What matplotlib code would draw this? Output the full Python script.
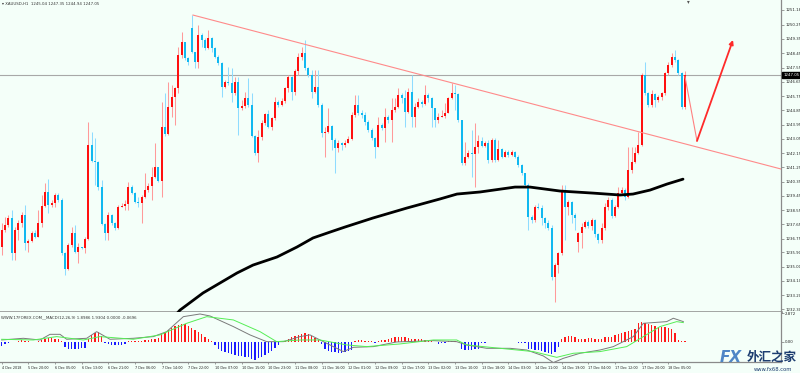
import numpy as np
import matplotlib
matplotlib.use('Agg')
import matplotlib.pyplot as plt
from matplotlib.transforms import blended_transform_factory

# XAUUSD H1 candles (bar index 0..205)
closes = [1237.30, 1237.62, 1238.04, 1235.83, 1237.30, 1237.72, 1238.25, 1236.46, 1236.63, 1237.13,
          1236.88, 1237.72, 1238.81, 1239.72, 1238.88, 1238.98, 1239.51, 1239.19, 1235.87, 1234.82,
          1236.35, 1237.09, 1235.94, 1236.21, 1236.16, 1236.71, 1242.66, 1241.67, 1241.59, 1240.03,
          1237.68, 1237.13, 1238.25, 1237.72, 1237.40, 1238.77, 1238.81, 1238.94, 1240.03, 1239.66,
          1239.09, 1238.98, 1239.40, 1239.82, 1240.08, 1240.66, 1241.25, 1240.41, 1243.82, 1243.36,
          1245.08, 1245.67, 1246.24, 1248.34, 1249.18, 1248.13, 1247.92, 1248.55, 1247.92, 1249.60,
          1249.29, 1248.76, 1249.39, 1248.76, 1248.24, 1247.82, 1246.34, 1246.66, 1246.55, 1245.92,
          1246.66, 1244.98, 1245.12, 1245.61, 1245.19, 1243.23, 1242.14, 1243.19, 1244.03, 1244.62,
          1243.82, 1244.35, 1245.40, 1245.19, 1245.46, 1246.24, 1246.97, 1246.03, 1247.35, 1248.24,
          1248.49, 1247.50, 1247.08, 1246.03, 1246.34, 1245.19, 1243.40, 1243.50, 1243.86, 1242.98,
          1242.45, 1242.77, 1242.66, 1242.81, 1243.02, 1244.56, 1245.19, 1244.66, 1244.56, 1244.13,
          1243.61, 1243.08, 1242.56, 1243.92, 1243.71, 1244.45, 1244.24, 1244.87, 1245.08, 1245.82,
          1245.61, 1244.77, 1246.03, 1244.45, 1245.08, 1245.40, 1245.25, 1245.82, 1245.61, 1244.98,
          1244.24, 1244.45, 1244.49, 1244.70, 1245.61, 1245.92, 1245.88, 1244.24, 1241.51, 1241.93,
          1242.14, 1242.10, 1242.56, 1242.94, 1242.60, 1242.77, 1241.72, 1242.98, 1241.72, 1242.39,
          1241.93, 1242.24, 1242.03, 1242.24, 1241.93, 1241.40, 1240.87, 1240.14, 1238.14, 1237.93,
          1238.77, 1238.69, 1238.04, 1237.72, 1237.40, 1234.36, 1235.09, 1235.83, 1239.82, 1238.77,
          1239.09, 1238.25, 1238.04, 1237.13, 1237.51, 1237.83, 1237.55, 1237.93, 1237.05, 1236.67,
          1237.40, 1238.77, 1239.19, 1238.18, 1238.77, 1239.61, 1239.82, 1239.40, 1241.08, 1241.61,
          1242.14, 1242.66, 1247.08, 1245.92, 1245.19, 1245.88, 1245.50, 1245.67, 1245.92, 1247.18,
          1247.71, 1248.24, 1248.03, 1247.18, 1245.04, 1247.05]
highs = [1237.72, 1238.14, 1238.25, 1238.56, 1237.51, 1237.93, 1238.46, 1238.88, 1236.71, 1237.26,
         1237.30, 1238.56, 1239.51, 1240.24, 1240.50, 1239.19, 1239.66, 1239.61, 1239.30, 1235.93,
         1236.46, 1237.51, 1237.62, 1236.46, 1236.25, 1236.88, 1244.13, 1243.50, 1243.08, 1241.67,
         1240.45, 1237.72, 1238.46, 1238.31, 1237.83, 1238.88, 1238.98, 1239.19, 1240.35, 1240.14,
         1239.72, 1239.40, 1239.51, 1240.87, 1240.24, 1241.29, 1242.77, 1241.29, 1245.40, 1245.92,
         1246.66, 1246.45, 1246.34, 1248.87, 1249.81, 1249.18, 1248.24, 1250.86, 1248.55, 1250.23,
         1249.71, 1249.39, 1249.92, 1249.50, 1248.82, 1248.34, 1247.92, 1246.76, 1247.60, 1247.50,
         1246.97, 1246.97, 1245.50, 1246.03, 1246.87, 1245.92, 1243.29, 1243.61, 1244.24, 1244.66,
         1244.87, 1244.45, 1245.71, 1245.50, 1245.61, 1246.34, 1247.08, 1247.02, 1247.44, 1248.45,
         1248.82, 1249.29, 1247.60, 1247.39, 1247.39, 1247.39, 1245.29, 1243.82, 1244.98, 1243.92,
         1243.08, 1242.98, 1242.87, 1242.98, 1243.23, 1244.77, 1245.82, 1245.82, 1244.87, 1244.77,
         1244.24, 1243.71, 1243.19, 1244.45, 1244.03, 1244.98, 1244.56, 1245.61, 1245.61, 1246.24,
         1245.92, 1246.13, 1246.24, 1247.08, 1245.29, 1245.61, 1245.50, 1246.45, 1245.92, 1245.67,
         1244.98, 1244.66, 1244.87, 1245.29, 1245.71, 1246.55, 1246.45, 1245.92, 1244.24, 1242.87,
         1242.35, 1243.61, 1244.03, 1243.29, 1243.19, 1242.94, 1242.98, 1243.08, 1243.08, 1242.98,
         1242.45, 1242.35, 1242.35, 1242.35, 1242.31, 1242.03, 1241.46, 1240.92, 1240.24, 1238.25,
         1238.88, 1238.98, 1238.88, 1238.14, 1237.93, 1237.62, 1235.20, 1235.93, 1240.14, 1240.14,
         1239.19, 1239.15, 1238.35, 1237.19, 1237.72, 1237.93, 1237.93, 1238.04, 1237.98, 1237.09,
         1237.72, 1238.98, 1239.40, 1239.30, 1238.88, 1240.03, 1240.03, 1239.93, 1242.56, 1242.56,
         1242.56, 1243.50, 1247.18, 1247.92, 1246.03, 1246.13, 1245.92, 1245.82, 1246.03, 1247.29,
         1247.92, 1248.49, 1248.66, 1248.07, 1247.29, 1247.35]
lows = [1235.72, 1237.19, 1237.51, 1235.41, 1235.41, 1236.67, 1237.51, 1236.04, 1235.93, 1236.56,
        1236.77, 1236.84, 1237.51, 1238.77, 1238.35, 1238.77, 1238.77, 1239.09, 1235.72, 1234.46,
        1234.78, 1236.25, 1235.87, 1235.20, 1236.08, 1235.83, 1236.67, 1241.61, 1240.14, 1239.82,
        1237.62, 1236.67, 1236.67, 1237.62, 1237.30, 1237.34, 1238.73, 1238.56, 1238.56, 1239.57,
        1238.98, 1238.77, 1237.72, 1239.30, 1239.72, 1239.19, 1240.56, 1240.35, 1239.40, 1243.23,
        1243.29, 1244.45, 1243.92, 1245.92, 1248.13, 1248.03, 1247.71, 1248.45, 1247.50, 1247.50,
        1248.87, 1248.66, 1248.70, 1248.55, 1248.13, 1247.71, 1245.71, 1246.24, 1246.45, 1245.40,
        1245.82, 1243.29, 1244.87, 1244.98, 1245.08, 1243.19, 1242.03, 1241.61, 1242.98, 1243.92,
        1243.71, 1243.61, 1244.24, 1245.08, 1245.12, 1245.29, 1246.03, 1245.50, 1245.82, 1247.08,
        1248.03, 1247.40, 1246.97, 1245.61, 1245.92, 1245.08, 1243.19, 1241.93, 1243.40, 1242.35,
        1240.87, 1242.24, 1242.35, 1242.56, 1242.77, 1242.98, 1244.45, 1244.56, 1244.35, 1243.92,
        1243.50, 1242.98, 1241.82, 1242.52, 1243.61, 1242.87, 1244.03, 1242.87, 1244.77, 1244.98,
        1245.29, 1243.82, 1244.66, 1243.82, 1243.82, 1244.98, 1245.08, 1245.19, 1245.40, 1243.82,
        1243.82, 1244.03, 1244.41, 1244.35, 1244.66, 1245.54, 1244.87, 1244.13, 1241.40, 1241.40,
        1241.82, 1240.66, 1240.03, 1242.14, 1242.52, 1242.56, 1241.51, 1241.61, 1241.61, 1241.67,
        1241.82, 1241.88, 1241.93, 1241.99, 1241.82, 1241.29, 1240.77, 1240.03, 1237.30, 1237.72,
        1237.83, 1238.60, 1237.62, 1237.40, 1237.30, 1234.15, 1232.78, 1234.57, 1235.72, 1236.67,
        1238.25, 1237.72, 1237.30, 1235.93, 1236.14, 1237.40, 1237.46, 1237.30, 1236.88, 1236.46,
        1236.46, 1237.30, 1238.56, 1238.04, 1238.10, 1238.67, 1239.51, 1239.19, 1239.30, 1240.87,
        1241.51, 1242.10, 1242.60, 1245.82, 1245.08, 1245.08, 1245.08, 1245.40, 1245.50, 1245.82,
        1247.08, 1247.60, 1247.92, 1247.08, 1244.91, 1244.94]
first_open = 1236.25
gap_opens = {57: 1250.02, 173: 1236.56}   # weekend / session gaps
last_price = 1247.05

# moving average (black), trend line, forecast arrow
ma_bars = [52, 53.5, 60.4, 70.6, 75.4, 82.6, 88.6, 93.4, 98.5, 103, 111.4, 121.6, 131.5,
           136.6, 143.5, 154, 158.5, 167.5, 177.4, 185.5, 189.4, 194.5, 199.6, 204.4]
ma_vals = [1231.90, 1232.25, 1233.33, 1234.59, 1235.09, 1235.60, 1236.23, 1236.80, 1237.17,
           1237.49, 1238.06, 1238.69, 1239.26, 1239.57, 1239.70, 1240.01, 1240.01, 1239.76,
           1239.63, 1239.51, 1239.57, 1239.82, 1240.20, 1240.51]
trend_x = [57.4, 233.8]
trend_y = [1250.86, 1241.15]
arrow_x = [205, 208.6, 219.4]
arrow_y = [1246.97, 1242.92, 1249.29]

price_ticks = [1251.18, 1250.25, 1249.35, 1248.45, 1247.55, 1246.65, 1245.75, 1244.85, 1243.95,
               1243.05, 1242.15, 1241.25, 1240.35, 1239.45, 1238.55, 1237.65, 1236.75, 1235.90,
               1235.00, 1234.10, 1233.20, 1232.30]

# MACD sub window
macd_hist = [-0.4, -0.2, -0.1, 0.0, 0.0, 0.05, 0.15, 0.1, 0.05, 0.03,
             0.03, 0.05, 0.2, 0.3, 0.35, 0.35, 0.3, 0.25, 0.05, -0.5,
             -0.7, -0.75, -0.75, -0.7, -0.65, -0.6, 0.3, 0.7, 0.95, 1.0,
             0.6, -0.1, -0.2, -0.3, -0.35, -0.35, -0.3, -0.2, 0.05, 0.08,
             0.1, 0.1, 0.12, 0.15, 0.2, 0.25, 0.3, 0.4, 0.8, 1.0,
             1.2, 1.4, 1.6, 1.7, 1.8, 1.8, 1.6, 1.4, 1.2, 1.0,
             0.8, 0.5, 0.3, 0.1, -0.3, -0.7, -0.9, -1.0, -1.1, -1.2,
             -1.3, -1.4, -1.45, -1.5, -1.55, -1.7, -1.8, -1.65, -1.5, -1.3,
             -1.1, -0.9, -0.6, -0.3, -0.05, 0.05, 0.3, 0.5, 0.6, 0.7,
             0.85, 0.9, 0.8, 0.6, 0.4, 0.2, -0.2, -0.7, -0.9, -1.0,
             -1.05, -1.1, -1.1, -1.0, -0.9, -0.8, 0.1, 0.2, 0.15, 0.1,
             0.05, 0.1, -0.1, 0.05, 0.15, 0.2, 0.25, 0.35, 0.45, 0.5,
             0.5, 0.45, 0.35, 0.3, 0.3, 0.3, 0.25, 0.2, 0.15, 0.1,
             -0.05, -0.2, -0.15, -0.1, 0.05, 0.1, 0.05, -0.05, -0.7, -0.8,
             -0.85, -0.8, -0.75, -0.7, -0.1, -0.1, -0.05, -0.05, -0.05, -0.05,
             -0.02, 0.02, -0.05, -0.05, -0.05, -0.1, -0.1, -0.1, -0.7, -0.75,
             -0.8, -0.85, -0.9, -1.0, -1.1, -1.2, -1.0, -0.5, 0.3, 0.5,
             0.6, 0.6, 0.5, 0.3, 0.25, 0.3, 0.35, 0.35, 0.3, 0.25,
             0.3, 0.5, 0.55, 0.55, 0.7, 0.8, 0.9, 1.0, 1.1, 1.2,
             1.3, 1.9, 2.0, 1.9, 1.8, 1.7, 1.6, 1.55, 1.5, 1.5,
             1.4, 1.3, 0.9, 0.2, 0.05, 0.05]
grey_x = [0, 6.5, 11.5, 14.5, 17.5, 19.5, 25.5, 28.5, 32.5, 39.5, 45.5, 49.5, 54.5, 59.5,
          62.5, 69.5, 74.5, 79.5, 84.5, 89.5, 92.5, 95.5, 99.5, 102.5, 105.5, 111.5, 118.5,
          129.5, 136.5, 139.5, 145.5, 152.5, 157.5, 162.5, 165.5, 168.5, 173.5, 179.5, 183.5,
          189.5, 192.5, 199.5, 201.5, 204.5]
grey_y = [0.2, 0.37, 0.2, 0.77, 0.77, 0.27, 0.37, 1.04, 0.27, 0.37, 0.54, 1.04, 2.55, 2.82,
          2.62, 1.55, 0.71, 0.03, 0.03, 0.54, 0.71, 0.2, -0.47, -0.97, -0.54, -0.47, 0.0,
          0.13, 0.03, -0.3, -0.64, -0.64, -0.81, -1.41, -2.08, -1.65, -1.14, -0.81, -0.47,
          0.54, 1.88, 2.05, 2.39, 2.05]
green_x = [0, 9.5, 16.5, 24.5, 29.5, 39.5, 47.5, 55.5, 61.5, 69.5, 77.5, 82.5, 89.5, 95.5,
           103.5, 109.5, 119.5, 129.5, 136.5, 139.5, 152.5, 159.5, 166.5, 171.5, 179.5,
           187.5, 192.5, 197.5, 202.5, 204.5]
green_y = [0.27, 0.2, 0.54, 0.2, 0.54, 0.27, 0.71, 1.88, 2.55, 2.22, 1.04, 0.03, 0.2, 0.2,
           -0.3, -0.47, -0.2, 0.2, 0.2, -0.3, -0.74, -0.97, -1.55, -1.14, -0.97,
           -0.47, 0.54, 1.55, 2.05, 1.95]

time_labels = ['4 Dec 2018', '5 Dec 20:00', '6 Dec 05:00', '6 Dec 13:00', '6 Dec 21:00',
               '7 Dec 06:00', '7 Dec 14:00', '7 Dec 22:00', '10 Dec 07:00', '10 Dec 15:00',
               '10 Dec 23:00', '11 Dec 08:00', '11 Dec 16:00', '12 Dec 01:00', '12 Dec 09:00',
               '12 Dec 17:00', '13 Dec 02:00', '13 Dec 10:00', '13 Dec 18:00', '14 Dec 03:00',
               '14 Dec 11:00', '14 Dec 19:00', '17 Dec 04:00', '17 Dec 12:00', '17 Dec 20:00',
               '18 Dec 05:00']
time_label_bars = list(range(0, 201, 8))

bg = '#f4fff9'
fs = 2.8

closes = np.array(closes)
opens = np.array([first_open] + list(closes[:-1]))
for k, v in gap_opens.items():
    opens[k] = v
highs = np.maximum(np.array(highs), np.maximum(opens, closes))
lows = np.minimum(np.array(lows), np.minimum(opens, closes))
idx = np.arange(len(closes))
up = closes >= opens

fig = plt.figure(figsize=(8, 3.73), dpi=100, facecolor=bg)
ax = fig.add_axes([0, 1 - 312 / 373, 781 / 800, 312 / 373], facecolor=bg)
mx = fig.add_axes([0, 1 - 362 / 373, 781 / 800, 50 / 373], facecolor=bg)

# candles
ax.vlines(idx, lows, highs, colors=np.where(up, '#ff9a9a', '#8fdcff'), lw=0.75, zorder=2)
body = np.maximum(np.abs(closes - opens), 0.04)
ax.bar(idx, body, bottom=np.minimum(opens, closes), width=0.62,
       color=np.where(up, '#ff1010', '#10b8f0'), lw=0, zorder=3)

ax.plot(ma_bars, ma_vals, color='black', lw=2.0, zorder=4, solid_capstyle='round')
ax.plot(trend_x, trend_y, color='#ff8a8a', lw=0.8, zorder=4)
ax.axhline(last_price, color='#a8a8a8', lw=0.8, zorder=1)
ax.plot(arrow_x[:2], arrow_y[:2], color='#ff8080', lw=0.8, zorder=5)
ax.annotate('', xy=(arrow_x[2], arrow_y[2]), xytext=(arrow_x[1], arrow_y[1]),
            arrowprops=dict(arrowstyle='-|>', color='#ff2a2a', lw=1.3,
                            mutation_scale=6, shrinkA=0, shrinkB=0), zorder=5)

xlim = (-0.5, 233.8)
ax.set_xlim(*xlim)
ax.set_ylim(1232.13, 1251.81)
ax.set_xticks([])
ax.yaxis.tick_right()
ax.set_yticks(price_ticks)
ax.set_yticklabels(['%.2f' % p for p in price_ticks])
ax.tick_params(axis='y', length=2, width=0.5, color='#777777', labelsize=fs, pad=1,
               labelcolor='#222222')
for s in ['top', 'left']:
    ax.spines[s].set_visible(False)
ax.spines['right'].set_color('#8a8a8a')
ax.spines['right'].set_linewidth(0.9)
ax.spines['bottom'].set_color('#8a8a8a')
ax.spines['bottom'].set_linewidth(1.8)

trans = blended_transform_factory(ax.transAxes, ax.transData)
ax.text(1.003, last_price, '%.2f' % last_price, transform=trans, fontsize=fs, color='white',
        va='center', ha='left',
        bbox=dict(boxstyle='square,pad=0.25', fc='black', ec='black'))

fig.text(0.003, 1 - 4 / 373, '\u25be XAUUSD,H1  1245.04 1247.35 1244.94 1247.05',
         fontsize=fs, va='center', ha='left', color='#333333')
fig.text(688 / 800, 1 - 1.5 / 373, '\u25be', fontsize=4, color='#555555', ha='center', va='center')

# MACD panel
mx.bar(idx, macd_hist, width=0.42, color=np.where(np.array(macd_hist) >= 0, '#ff1a1a', '#1a1aff'),
       lw=0, zorder=2)
mx.plot(grey_x, grey_y, color='#7a7a7a', lw=0.7, zorder=3)
mx.plot(green_x, green_y, color='#55ee55', lw=0.7, zorder=3)
mx.set_xlim(*xlim)
mx.set_ylim(-2.02, 3.02)
mx.yaxis.tick_right()
mx.set_yticks([2.872, 0.0])
mx.set_yticklabels(['2.872', '0.00'])
mx.tick_params(axis='y', length=2, width=0.5, color='#777777', labelsize=fs, pad=1,
               labelcolor='#222222')
mx.set_xticks(time_label_bars)
mx.set_xticklabels(time_labels, ha='left')
mx.tick_params(axis='x', length=1.5, width=0.5, color='#777777', labelsize=2.4, pad=1.5,
               labelcolor='#222222')
for s in ['top', 'left']:
    mx.spines[s].set_visible(False)
for s in ['right', 'bottom']:
    mx.spines[s].set_color('#8a8a8a')
    mx.spines[s].set_linewidth(0.9)
mx.text(0.001, 0.94, 'WWW.17FOREX.COM__MACD(12,26,9) 1.8986 1.9304 0.0000 -0.0696',
        transform=mx.transAxes, fontsize=fs, va='top', ha='left', color='#333333')

# watermark
fig.text(720 / 800, 1 - 358 / 373, 'FX', fontsize=11, fontweight='bold', fontstyle='italic',
         color='#4f86c6', ha='left', va='center', family=['DejaVu Sans'])
fig.text(747 / 800, 1 - 357 / 373, '外汇之家', fontsize=9, fontweight='bold', color='#1c3d70',
         ha='left', va='center', family=['Noto Sans CJK SC', 'DejaVu Sans'])
fig.text(773 / 800, 1 - 369.5 / 373, 'www.fx68.com', fontsize=3.8, color='#1c3d70',
         ha='center', va='center')

fig.savefig('out.png', dpi=100, facecolor=bg)
